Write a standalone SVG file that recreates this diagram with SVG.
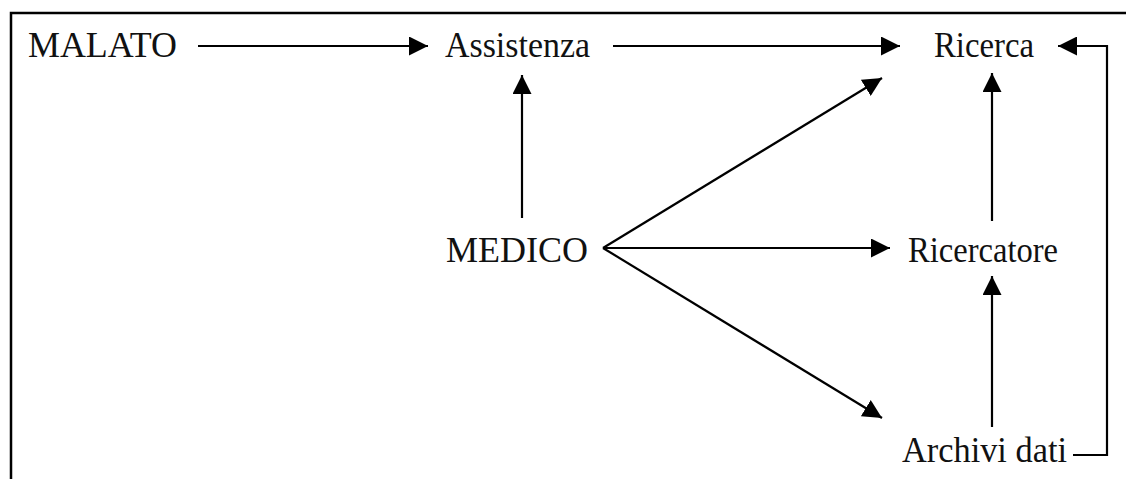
<svg xmlns="http://www.w3.org/2000/svg" width="1126" height="479" viewBox="0 0 1126 479">
  <style>
    .lbl { font-family: "Liberation Serif", "Times New Roman", serif; font-size: 36px; fill: #111; }
    .edge { fill: none; stroke: #000; stroke-width: 2.2; }
    .frame { fill: none; stroke: #000; stroke-width: 2.5; }
  </style>
  <defs>
    <marker id="ah" markerUnits="userSpaceOnUse" markerWidth="19" markerHeight="19" refX="19" refY="9.5" orient="auto" viewBox="0 0 19 19">
      <path d="M0,0 L19,9.5 L0,19 z" fill="#000"/>
    </marker>
  </defs>
  <rect width="1126" height="479" fill="#fff"/>
  <path class="frame" d="M11,479 V13 H1126"/>

  <g id="connectors">
    <line class="edge" x1="198" y1="46" x2="428" y2="46" marker-end="url(#ah)"/>
    <line class="edge" x1="613" y1="46" x2="900" y2="46" marker-end="url(#ah)"/>
    <line class="edge" x1="522" y1="218" x2="522" y2="75" marker-end="url(#ah)"/>
    <line class="edge" x1="603" y1="248" x2="882" y2="78" marker-end="url(#ah)"/>
    <line class="edge" x1="603" y1="248" x2="890" y2="248" marker-end="url(#ah)"/>
    <line class="edge" x1="603" y1="248" x2="882" y2="418" marker-end="url(#ah)"/>
    <line class="edge" x1="992" y1="221" x2="992" y2="73" marker-end="url(#ah)"/>
    <line class="edge" x1="992" y1="427" x2="992" y2="276" marker-end="url(#ah)"/>
    <polyline class="edge" points="1073,455 1107,455 1107,46 1058,46" marker-end="url(#ah)"/>
  </g>

  <g id="malato"><text class="lbl" x="28" y="57" textLength="149" lengthAdjust="spacingAndGlyphs">MALATO</text></g>
  <g id="assistenza"><text class="lbl" x="445" y="57" textLength="145" lengthAdjust="spacingAndGlyphs">Assistenza</text></g>
  <g id="ricerca"><text class="lbl" x="934" y="57" textLength="100" lengthAdjust="spacingAndGlyphs">Ricerca</text></g>
  <g id="medico"><text class="lbl" x="446" y="262" textLength="142" lengthAdjust="spacingAndGlyphs">MEDICO</text></g>
  <g id="ricercatore"><text class="lbl" x="908" y="262" textLength="150" lengthAdjust="spacingAndGlyphs">Ricercatore</text></g>
  <g id="archivi"><text class="lbl" x="902" y="462" textLength="165" lengthAdjust="spacingAndGlyphs">Archivi dati</text></g>
</svg>
